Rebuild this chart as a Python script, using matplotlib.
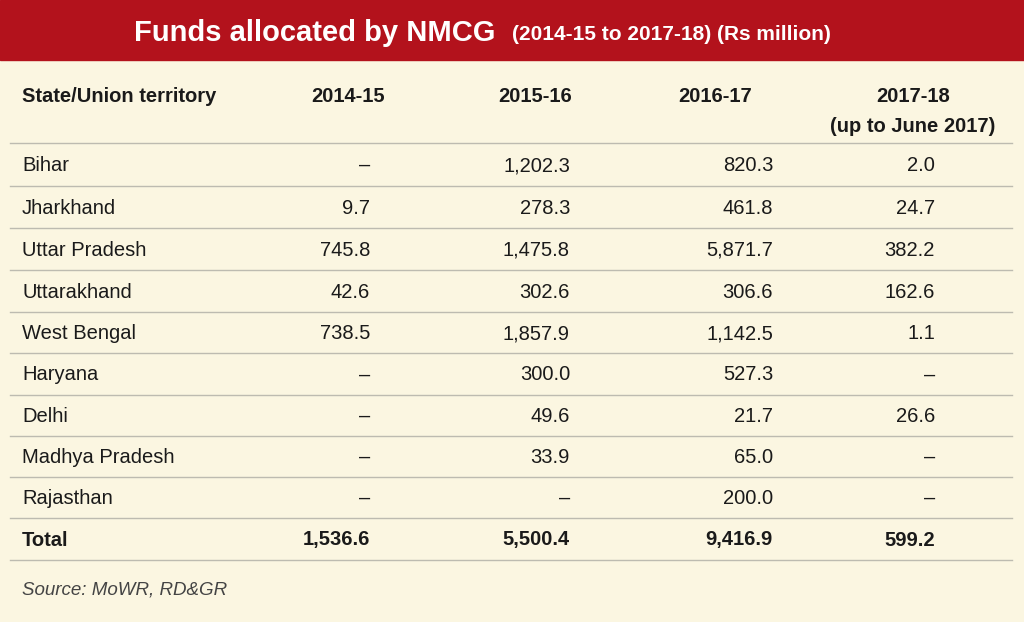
import matplotlib
matplotlib.use("Agg")
import matplotlib.pyplot as plt
from matplotlib.patches import Rectangle

title = "Funds allocated by NMCG"
subtitle = "(2014-15 to 2017-18) (Rs million)"
col_header = ["State/Union territory", "2014-15", "2015-16", "2016-17", "2017-18\n(up to June 2017)"]
states = ["Bihar", "Jharkhand", "Uttar Pradesh", "Uttarakhand", "West Bengal",
          "Haryana", "Delhi", "Madhya Pradesh", "Rajasthan"]
y2014 = ["–", "9.7", "745.8", "42.6", "738.5", "–", "–", "–", "–"]
y2015 = ["1,202.3", "278.3", "1,475.8", "302.6", "1,857.9", "300.0", "49.6", "33.9", "–"]
y2016 = ["820.3", "461.8", "5,871.7", "306.6", "1,142.5", "527.3", "21.7", "65.0", "200.0"]
y2017 = ["2.0", "24.7", "382.2", "162.6", "1.1", "–", "26.6", "–", "–"]
totals = ["Total", "1,536.6", "5,500.4", "9,416.9", "599.2"]
source = "Source: MoWR, RD&GR"

plt.rcParams['font.family'] = ['Liberation Sans', 'DejaVu Sans']
fig = plt.figure(figsize=(10.24, 6.22), dpi=100)
fig.patch.set_facecolor('#FBF6E1')
ax = fig.add_axes([0, 0, 1, 1])
ax.set_xlim(0, 1024); ax.set_ylim(622, 0); ax.axis('off')

ax.add_patch(Rectangle((0, 0), 1024, 60, color='#B3121C'))
ax.text(512, 33, title + "  ", ha='right', va='center', color='white', fontsize=21, fontweight='bold')
ax.text(512, 34, subtitle, ha='left', va='center', color='white', fontsize=15, fontweight='bold')

rx = [370, 570, 773, 935]
hx = [348, 535, 715, 913]
fs = 14.5
ax.text(22, 97, col_header[0], ha='left', va='center', fontsize=fs, fontweight='bold', color='#1a1a1a')
for i in range(1, 5):
    lines = col_header[i].split("\n")
    ax.text(hx[i-1], 97, lines[0], ha='center', va='center', fontsize=fs, fontweight='bold', color='#1a1a1a')
    if len(lines) > 1:
        ax.text(hx[i-1], 126, lines[1], ha='center', va='center', fontsize=fs, fontweight='bold', color='#1a1a1a')

line_y = [143, 186, 228, 270, 312, 353, 395, 436, 477, 518, 560]
for y in line_y:
    ax.plot([10, 1012], [y, y], color='#BDBBB0', lw=1)

cols = [y2014, y2015, y2016, y2017]
for r, st in enumerate(states):
    y = (line_y[r] + line_y[r+1]) / 2 + 1
    ax.text(22, y, st, ha='left', va='center', fontsize=fs, color='#1a1a1a')
    for c in range(4):
        ax.text(rx[c], y, cols[c][r], ha='right', va='center', fontsize=fs, color='#1a1a1a')
y = (line_y[9] + line_y[10]) / 2 + 1
ax.text(22, y, totals[0], ha='left', va='center', fontsize=fs, fontweight='bold', color='#1a1a1a')
for c in range(4):
    ax.text(rx[c], y, totals[c+1], ha='right', va='center', fontsize=fs, fontweight='bold', color='#1a1a1a')

ax.text(22, 590, source, ha='left', va='center', fontsize=13.5, style='italic', color='#444444')
fig.savefig('out.png', dpi=100, facecolor=fig.get_facecolor())
